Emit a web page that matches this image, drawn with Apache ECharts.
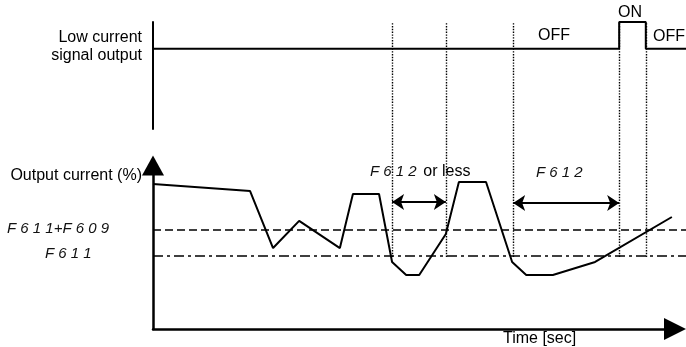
<!DOCTYPE html>
<html>
<head>
<meta charset="utf-8">
<script src="https://cdn.jsdelivr.net/npm/echarts@6/dist/echarts.min.js"></script>
<style>
  html, body { margin: 0; padding: 0; background: #fff; }
  #chart { width: 686px; height: 347px; }
</style>
</head>
<body>
<div id="chart"></div>
<script>
// output current curve (time in arbitrary units, current in %)
const timeSec = [0, 18.6, 23.0, 28.0, 35.8, 38.3, 43.3, 45.8, 48.5, 51.0, 56.1, 58.6, 63.8, 68.8, 71.5, 76.6, 84.7, 99.4];
const currentPct = [88.7, 84.4, 49.5, 66.1, 49.5, 82.6, 82.6, 41.0, 33.0, 33.0, 58.1, 89.9, 89.9, 41.0, 33.0, 33.0, 41.0, 68.5];

// threshold levels
const thresholdSpan = [0, 102.1];
const levelF611F609 = 60.6;
const levelF611 = 44.6;

// low current signal (0 = OFF, 1 = ON)
const signalTime = [0, 89.3, 89.3, 94.4, 94.4, 102.1];
const signalState = [0, 0, 1, 1, 0, 0];

// dotted time markers and the two timing spans
const markerTime = [45.8, 56.1, 69.0, 89.3, 94.4];
const spanF612OrLess = [45.8, 56.1];
const spanF612 = [69.0, 89.3];
const spanLevel = [77.7, 77.1];

const segFont = 'Liberation Sans';
const textFont = 'Liberation Sans';

var chartDom = document.getElementById('chart');
var myChart = echarts.init(chartDom, null, { renderer: 'canvas' });

function zip(xs, ys) {
  return xs.map(function (x, i) { return [x, ys[i]]; });
}

var hidden = { show: false };

var option = {
  animation: false,
  backgroundColor: '#fff',
  grid: [
    // signal output
    { left: 153, right: 0, top: 22, bottom: 218 },
    // output current (axes with arrows)
    { left: 153, right: 11, top: 165.5, bottom: 18 },
    // dotted markers spanning both
    { left: 153, right: 0, top: 23, bottom: 90 },
    // same scale as output current, running to the right edge
    { left: 153, right: 0, top: 165.5, bottom: 18 }
  ],
  xAxis: [
    { gridIndex: 0, type: 'value', min: 0, max: 102.1, show: false },
    {
      gridIndex: 1, type: 'value', min: 0, max: 100,
      axisLine: {
        show: true, onZero: false,
        symbol: ['none', 'triangle'], symbolSize: [22, 22],
        lineStyle: { color: '#000', width: 2.5 }
      },
      axisTick: hidden, axisLabel: hidden, splitLine: hidden
    },
    { gridIndex: 2, type: 'value', min: 0, max: 102.1, show: false },
    { gridIndex: 3, type: 'value', min: 0, max: 102.1, show: false }
  ],
  yAxis: [
    {
      gridIndex: 0, type: 'value', min: -3, max: 1,
      axisLine: { show: true, lineStyle: { color: '#000', width: 2 } },
      axisTick: hidden, axisLabel: hidden, splitLine: hidden
    },
    {
      gridIndex: 1, type: 'value', min: 0, max: 100,
      axisLine: {
        show: true, onZero: false,
        symbol: ['none', 'triangle'], symbolSize: [22, 20],
        lineStyle: { color: '#000', width: 2.5 }
      },
      axisTick: hidden, axisLabel: hidden, splitLine: hidden
    },
    { gridIndex: 2, type: 'value', min: 0, max: 1, show: false },
    { gridIndex: 3, type: 'value', min: 0, max: 100, show: false }
  ],
  series: [
    {
      name: 'Low current signal output',
      type: 'line', xAxisIndex: 0, yAxisIndex: 0,
      data: zip(signalTime, signalState),
      symbol: 'none',
      lineStyle: { color: '#000', width: 2 }
    },
    {
      name: 'markers',
      type: 'lines', coordinateSystem: 'cartesian2d', xAxisIndex: 2, yAxisIndex: 2,
      data: markerTime.map(function (t) { return { coords: [[t, 0], [t, 1]] }; }),
      lineStyle: { color: '#000', width: 1.4, type: [1.4, 1.4], opacity: 1 },
      symbol: 'none', z: 1
    },
    {
      name: 'F611+F609',
      type: 'line', xAxisIndex: 3, yAxisIndex: 3,
      data: thresholdSpan.map(function (t) { return [t, levelF611F609]; }),
      symbol: 'none',
      lineStyle: { color: '#000', width: 1.5, type: [8, 4] }
    },
    {
      name: 'F611',
      type: 'line', xAxisIndex: 3, yAxisIndex: 3,
      data: thresholdSpan.map(function (t) { return [t, levelF611]; }),
      symbol: 'none',
      lineStyle: { color: '#000', width: 1.5, type: [10, 4, 3, 4] }
    },
    {
      name: 'Output current',
      type: 'line', xAxisIndex: 1, yAxisIndex: 1,
      data: zip(timeSec, currentPct),
      symbol: 'none',
      lineStyle: { color: '#000', width: 2 }, z: 3
    },
    {
      name: 'spans',
      type: 'lines', coordinateSystem: 'cartesian2d', xAxisIndex: 1, yAxisIndex: 1,
      data: [
        { coords: [[spanF612OrLess[0], spanLevel[0]], [spanF612OrLess[1], spanLevel[0]]] },
        { coords: [[spanF612[0], spanLevel[1]], [spanF612[1], spanLevel[1]]] }
      ],
      symbol: ['arrow', 'arrow'], symbolSize: 12,
      lineStyle: { color: '#000', width: 2, opacity: 1 }, z: 4
    }
  ],
  graphic: [
    { type: 'text', x: 142, y: 47, style: { text: 'Low current\nsignal output', font: '16px ' + textFont, fill: '#000', align: 'right', verticalAlign: 'middle', lineHeight: 18 } },
    { type: 'text', x: 538, y: 36, style: { text: 'OFF', font: '16px ' + textFont, fill: '#000', verticalAlign: 'middle' } },
    { type: 'text', x: 630, y: 13, style: { text: 'ON', font: '16px ' + textFont, fill: '#000', align: 'center', verticalAlign: 'middle' } },
    { type: 'text', x: 653, y: 37, style: { text: 'OFF', font: '16px ' + textFont, fill: '#000', verticalAlign: 'middle' } },
    { type: 'text', x: 142, y: 176, style: { text: 'Output current (%)', font: '16px ' + textFont, fill: '#000', align: 'right', verticalAlign: 'middle' } },
    { type: 'text', x: 7, y: 229, style: { text: 'F 6 1 1+F 6 0 9', font: 'italic 15px ' + segFont, fill: '#111', verticalAlign: 'middle' } },
    { type: 'text', x: 45, y: 254, style: { text: 'F 6 1 1', font: 'italic 15px ' + segFont, fill: '#111', verticalAlign: 'middle' } },
    {
      type: 'text', x: 370, y: 172,
      style: {
        text: '{s|F 6 1 2}  {n|or less}', verticalAlign: 'middle', fill: '#000',
        rich: {
          s: { font: 'italic 15px ' + segFont, fill: '#111' },
          n: { font: '16px ' + textFont, fill: '#000' }
        }
      }
    },
    { type: 'text', x: 536, y: 173, style: { text: 'F 6 1 2', font: 'italic 15px ' + segFont, fill: '#111', verticalAlign: 'middle' } },
    { type: 'text', x: 503, y: 339, style: { text: 'Time [sec]', font: '16px ' + textFont, fill: '#000', verticalAlign: 'middle' } }
  ]
};

myChart.setOption(option);
</script>
</body>
</html>
